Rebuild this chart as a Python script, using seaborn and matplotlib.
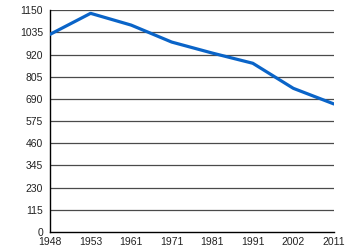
import matplotlib
matplotlib.use("Agg")
import matplotlib.pyplot as plt
import seaborn as sns
import pandas as pd

years = ["1948", "1953", "1961", "1971", "1981", "1991", "2002", "2011"]
values = [1025, 1134, 1073, 985, 928, 875, 745, 664]
yticks = [0, 115, 230, 345, 460, 575, 690, 805, 920, 1035, 1150]

sns.set_style("white")
plt.rcParams['font.family'] = ['Liberation Sans', 'DejaVu Sans']

df = pd.DataFrame({"pos": list(range(len(years))), "value": values})

fig = plt.figure(figsize=(3.5, 2.5), dpi=100)
ax = fig.add_axes([0.143, 0.072, 0.811, 0.887])
for t in yticks[1:]:
    ax.axhline(t, color="#4a4a4a", lw=0.9, zorder=1)
sns.lineplot(data=df, x="pos", y="value", ax=ax, color="#0a64c8", lw=2.3, zorder=3)
ax.set_xlim(0, len(years) - 1)
ax.set_ylim(0, 1150)
ax.set_xticks(range(len(years)))
ax.set_xticklabels(years)
ax.set_yticks(yticks)
ax.set_xlabel("")
ax.set_ylabel("")
for s in ["top", "right"]:
    ax.spines[s].set_visible(False)
for s in ["left", "bottom"]:
    ax.spines[s].set_color("black")
    ax.spines[s].set_linewidth(1.0)
ax.tick_params(axis="x", direction="inout", length=5, width=0.9, labelsize=7.5, pad=1, colors="black")
ax.tick_params(axis="y", direction="out", length=3, width=0.9, labelsize=7.5, pad=2, colors="black")
ax.tick_params(axis="x", labelcolor="#222222")
ax.tick_params(axis="y", labelcolor="#222222")
fig.savefig("out.png", dpi=100)
